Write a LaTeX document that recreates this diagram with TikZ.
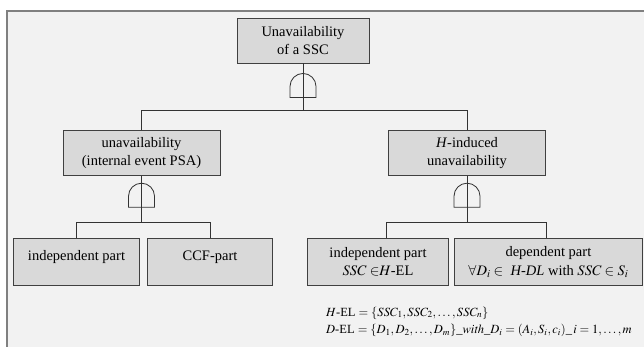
\documentclass[tikz,border=0pt]{standalone}
\usepackage{mathptmx}
\usepackage{fontspec}
\setmainfont{Liberation Serif}

\begin{document}
\begin{tikzpicture}[x=1pt,y=-1pt,
    evtbox/.style={draw=black!75,fill=gray!30,line width=0.9pt,align=center,
      inner sep=0pt,font=\fontsize{14.5}{18.5}\selectfont},
    conn/.style={draw=black!80,line width=0.8pt},
    andgate/.pic={\draw[black!80,line width=0.8pt] (-13,0) -- (-13,-11) arc (180:360:13) -- (13,0) -- cycle;}]
  \useasboundingbox (0,0) rectangle (644,347);
  \clip (0,0) rectangle (644,347);
  % frame
  \draw[gray,fill=gray!10,line width=1.5pt] (7,11) rectangle (660,360);

  % events
  \node[evtbox,minimum width=132,minimum height=45] (top) at (303,40.5) {Unavailability\\of a SSC};
  \node[evtbox,minimum width=157,minimum height=44.5] (midL) at (141.5,153) {unavailability\\(internal event PSA)};
  \node[evtbox,minimum width=157,minimum height=44.5] (midR) at (467,153) {\textit{H}-induced\\unavailability};
  \node[evtbox,minimum width=125.6,minimum height=46.7] (botA) at (76.5,262) {independent part\\[-5pt]\mbox{}};
  \node[evtbox,minimum width=124.6,minimum height=46.7] (botB) at (210,262) {CCF-part\\[-5pt]\mbox{}};
  \node[evtbox,minimum width=140.3,minimum height=46.7] (botC) at (378,262) {independent part\\$SSC\;{\in}H$-EL};
  \node[evtbox,minimum width=188.7,minimum height=46.7] (botD) at (548.4,262) {dependent part\\$\forall D_i\in$\enspace\textit{H-DL} with $SSC\in S_i$};

  % connectors
  \draw[conn] (top.south) -- ++(0,47) coordinate (j1);
  \draw[conn] (midL.north) |- (j1) -| (midR.north);
  \path (top.south) ++(0,34) pic {andgate};

  \draw[conn] (midL.south) -- ++(0,47) coordinate (j2);
  \draw[conn] (botA.north) |- (j2) -| (botB.north);
  \path (midL.south) ++(0,31.5) pic {andgate};

  \draw[conn] (midR.south) -- ++(0,47) coordinate (j3);
  \draw[conn] ([xshift=8pt]botC.north) |- (j3) -| ([xshift=-2pt]botD.north);
  \path (midR.south) ++(0,31.5) pic {andgate};

  % sets
  \node[anchor=west,inner sep=0pt,font=\fontsize{12.5}{15}\selectfont] (hel) at (326,313)
    {$H$-EL $=\{SSC_1,SSC_2,\ldots,SSC_n\}$};
  \node[anchor=west,inner sep=0pt,font=\fontsize{12.5}{15}\selectfont] (del) at (326,330)
    {$D$-EL $=\{D_1,D_2,\ldots,D_m\}\_\mathit{with}\_D_i=(A_i,S_i,c_i)\_\,i=1,\ldots,m$};
\end{tikzpicture}
\end{document}
